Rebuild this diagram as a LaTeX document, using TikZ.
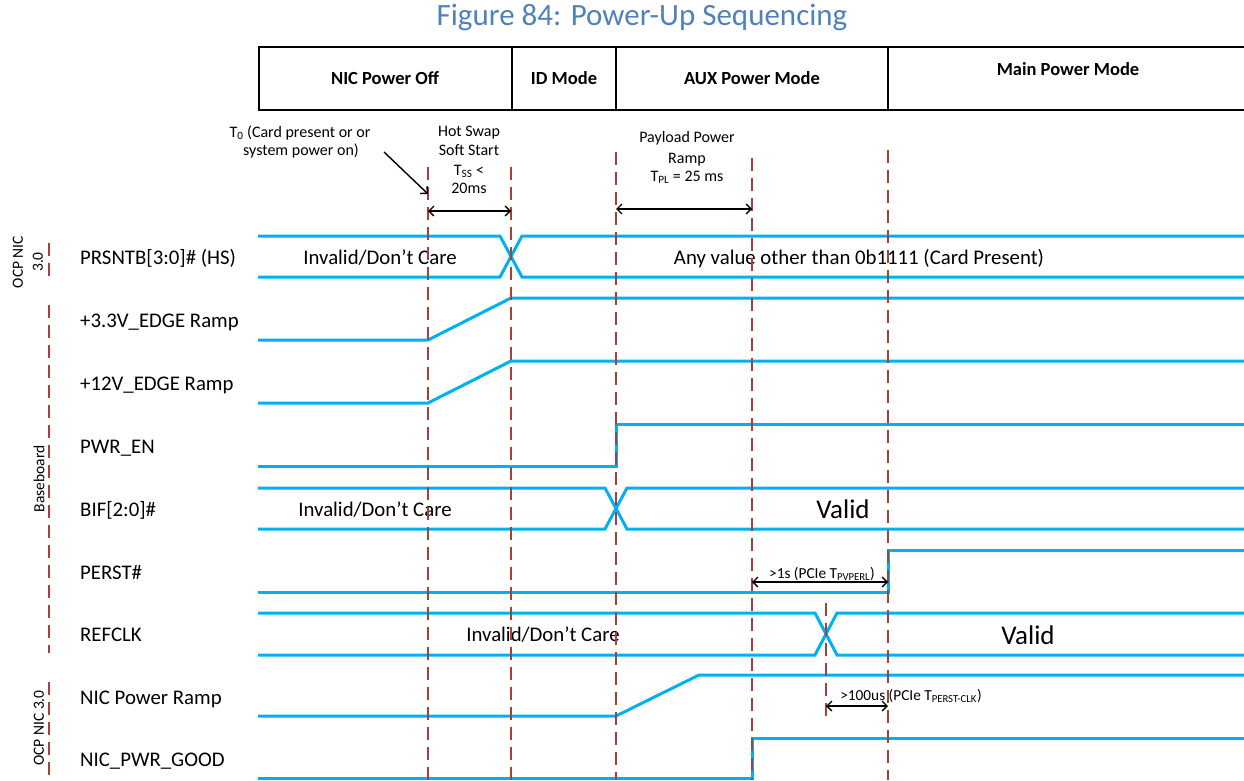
\documentclass[tikz,border=0pt]{standalone}
\usepackage{fontspec}
\setmainfont{Carlito}
\usetikzlibrary{arrows.meta}
\definecolor{sig}{RGB}{0,176,240}
\definecolor{gridred}{RGB}{166,64,58}
\definecolor{titleblue}{RGB}{79,129,189}
\tikzset{
  sigline/.style={draw=sig, line width=3pt},
  gridline/.style={draw=gridred, line width=1.5pt, dash pattern=on 13pt off 7pt},
  hdr/.style={draw=black, line width=1.8pt},
  dimarrow/.style={draw=black, line width=1.3pt, {Straight Barb[length=5pt,width=10pt]}-{Straight Barb[length=5pt,width=10pt]}},
  ptarrow/.style={draw=black, line width=1.4pt, -{Straight Barb[length=5pt,width=10pt]}},
  titletext/.style={anchor=base, inner sep=0, text=titleblue, font=\fontsize{31}{36}\selectfont},
  hdrtext/.style={anchor=base, inner sep=0, font=\bfseries\fontsize{18.5}{22}\selectfont},
  sigtext/.style={anchor=base west, inner sep=0, font=\fontsize{20.8}{24}\selectfont},
  valtext/.style={anchor=base, inner sep=0, font=\fontsize{20.8}{24}\selectfont},
  bigtext/.style={anchor=base, inner sep=0, font=\fontsize{27}{32}\selectfont},
  notetext/.style={anchor=base, inner sep=0, font=\fontsize{16}{19}\selectfont},
  dimtext/.style={anchor=base, inner sep=0, font=\fontsize{15.3}{18}\selectfont},
  grouptext/.style={rotate=90, inner sep=0, align=center, font=\fontsize{15.5}{20}\selectfont},
}
\begin{document}
\begin{tikzpicture}[x=1pt,y=-1pt]
\useasboundingbox (0,0) rectangle (1244,780);

% ---- title
\node[titletext] (title) at (642,25) {Figure 84: Power-Up Sequencing};

% ---- header table
\coordinate (hTL) at (259,47);  \coordinate (hBL) at (259,110);
\coordinate (hTR) at (1244,47); \coordinate (hBR) at (1244,110);
\coordinate (d1t) at (512,47);  \coordinate (d1b) at (512,110);
\coordinate (d2t) at (616,47);  \coordinate (d2b) at (616,110);
\coordinate (d3t) at (888,47);  \coordinate (d3b) at (888,110);
\draw[hdr] (hTR) -- (hTL) -- (hBL) -- (hBR);
\draw[hdr] (d1t) -- (d1b);
\draw[hdr] (d2t) -- (d2b);
\draw[hdr] (d3t) -- (d3b);
\node[hdrtext] (hOff)  at (385,84) {NIC Power Off};
\node[hdrtext] (hID)   at (564,84) {ID Mode};
\node[hdrtext] (hAux)  at (752,84) {AUX Power Mode};
\node[hdrtext] (hMain) at (1068,75) {Main Power Mode};

% ---- group labels at left
\coordinate (g1a) at (49,243); \coordinate (g1b) at (49,277);
\coordinate (g2a) at (49,305); \coordinate (g2b) at (49,653);
\coordinate (g3a) at (49,682); \coordinate (g3b) at (49,780);
\draw[gridline] (g1a) -- (g1b);
\draw[gridline] (g2a) -- (g2b);
\draw[gridline] (g3a) -- (g3b);
\node[grouptext] (grpA) at (28,262) {OCP NIC\\3.0};
\node[grouptext] (grpB) at (39,479) {Baseboard};
\node[grouptext] (grpC) at (39,728) {OCP NIC 3.0};

% ---- signal names
\node[sigtext] (nPRS)  at (80,264.6) {PRSNTB[3:0]\# (HS)};
\node[sigtext] (n33)   at (80,327.6) {+3.3V\_EDGE Ramp};
\node[sigtext] (n12)   at (80,390.6) {+12V\_EDGE Ramp};
\node[sigtext] (nEN)   at (80,453.6) {PWR\_EN};
\node[sigtext] (nBIF)  at (80,516.0) {BIF[2:0]\#};
\node[sigtext] (nPER)  at (80,579.6) {PERST\#};
\node[sigtext] (nCLK)  at (80,641.6) {REFCLK};
\node[sigtext] (nRamp) at (80,704.0) {NIC Power Ramp};
\node[sigtext] (nGood) at (80,766.6) {NIC\_PWR\_GOOD};

% ---- waveforms
% PRSNTB
\draw[sigline] (258,236) -- (500,236) -- (522,277) -- (1244,277);
\draw[sigline] (258,277) -- (500,277) -- (522,236) -- (1244,236);
\node[valtext] (vPRS1) at (380,264.6) {Invalid/Don’t Care};
\node[valtext] (vPRS2) at (859,264.6) {Any value other than 0b1111 (Card Present)};
% +3.3V
\draw[sigline] (258,340) -- (428,340) -- (511,298) -- (1244,298);
% +12V
\draw[sigline] (258,403) -- (428,403) -- (511,361) -- (1244,361);
% PWR_EN
\draw[sigline] (258,466) -- (616,466) -- (616,424) -- (1244,424);
% BIF
\draw[sigline] (258,488) -- (605,488) -- (627,529) -- (1244,529);
\draw[sigline] (258,529) -- (605,529) -- (627,488) -- (1244,488);
\node[valtext] (vBIF1) at (375,516) {Invalid/Don’t Care};
\node[bigtext] (vBIF2) at (843,518) {Valid};
% PERST#
\draw[sigline] (258,592) -- (888,592) -- (888,550) -- (1244,550);
% REFCLK
\draw[sigline] (258,613) -- (815,613) -- (837,655) -- (1244,655);
\draw[sigline] (258,655) -- (815,655) -- (837,613) -- (1244,613);
\node[valtext] (vCLK1) at (543,641.6) {Invalid/Don’t Care};
\node[bigtext] (vCLK2) at (1028,644) {Valid};
% NIC Power Ramp
\draw[sigline] (258,716) -- (616,716) -- (699,675) -- (1244,675);
% NIC_PWR_GOOD
\draw[sigline] (258,778) -- (752,778) -- (752,738) -- (1244,738);

% ---- dashed timing lines
\coordinate (tA) at (428,167); \coordinate (bA) at (428,780);
\coordinate (tB) at (511,167); \coordinate (bB) at (511,780);
\coordinate (tC) at (616,152); \coordinate (bC) at (616,780);
\coordinate (tD) at (752,158); \coordinate (bD) at (752,780);
\coordinate (tE) at (888,150); \coordinate (bE) at (888,780);
\coordinate (tF) at (826,603); \coordinate (bF) at (826,718);
\draw[gridline] (tA) -- (bA);
\draw[gridline] (tB) -- (bB);
\draw[gridline] (tC) -- (bC);
\draw[gridline] (tD) -- (bD);
\draw[gridline] (tE) -- (bE);
\draw[gridline] (tF) -- (bF);

% ---- annotations
\node[notetext] (t0a) at (300,137) {T\textsubscript{0} (Card present or or};
\node[notetext] (t0b) at (301,155) {system power on)};
\coordinate (t0from) at (384,152);
\coordinate (t0to) at (428,194);
\draw[ptarrow] (t0from) -- (t0to);

\node[notetext] (hs1) at (469,136) {Hot Swap};
\node[notetext] (hs2) at (469,155) {Soft Start};
\node[notetext] (hs3) at (469,175) {T\textsubscript{SS} <};
\node[notetext] (hs4) at (469,193) {20ms};
\coordinate (hsL) at (428,211); \coordinate (hsR) at (511,211);
\draw[dimarrow] (hsL) -- (hsR);

\node[notetext] (pl1) at (687,142) {Payload Power};
\node[notetext] (pl2) at (687,163) {Ramp};
\node[notetext] (pl3) at (687,181) {T\textsubscript{PL} = 25 ms};
\coordinate (plL) at (616,209); \coordinate (plR) at (752,209);
\draw[dimarrow] (plL) -- (plR);

\node[dimtext] (pv) at (822,578) {>1s (PCIe T\textsubscript{PVPERL})};
\coordinate (pvL) at (752,582); \coordinate (pvR) at (888,582);
\draw[dimarrow] (pvL) -- (pvR);

\node[dimtext] (pc) at (911,700) {>100us (PCIe T\textsubscript{PERST-CLK})};
\coordinate (pcL) at (826,706); \coordinate (pcR) at (888,706);
\draw[dimarrow] (pcL) -- (pcR);
\end{tikzpicture}
\end{document}
